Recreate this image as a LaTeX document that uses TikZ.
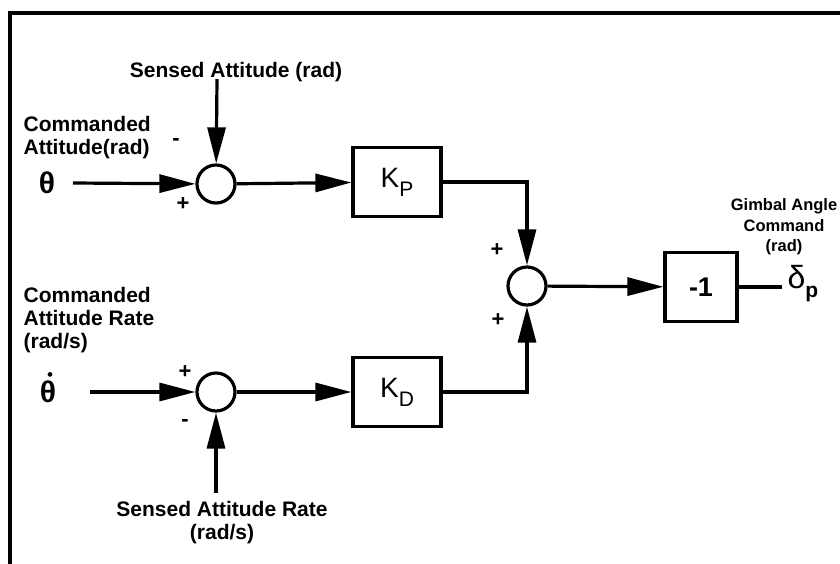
\documentclass[tikz,border=0pt]{standalone}
\usepackage{fontspec}
\setmainfont{Liberation Sans}
\usetikzlibrary{arrows.meta,positioning,calc}
\begin{document}
\begin{tikzpicture}[x=1pt,y=-1pt,
  line width=3.2pt,
  sig/.style={-{Triangle[length=36pt,width=18pt]}},
  sumj/.style={circle,draw,inner sep=0pt,minimum size=38pt},
  gain/.style={draw,inner sep=0pt,minimum width=88pt,minimum height=69pt},
  lab/.style={font=\bfseries\fontsize{21}{23}\selectfont,inner sep=0pt},
  sgn/.style={font=\bfseries\fontsize{22}{23}\selectfont,inner sep=0pt},
  small/.style={font=\bfseries\fontsize{16.5}{20.5}\selectfont,inner sep=0pt,align=center},
  greek/.style={font=\bfseries\fontsize{30}{30}\selectfont,inner sep=0pt}]
\useasboundingbox (0,0) rectangle (840,563);
% frame
\draw[line width=3.4pt] (10,570) -- (10,13) -- (850,13);

% upper loop: attitude
\node[lab] (salab) at (236,72) {Sensed Attitude (rad)};
\coordinate (satop) at (217,79);
\node[lab,anchor=west,align=left] (calab) at (22,138) {Commanded\\Attitude(rad)};
\node[greek] (th) at (47,183) {θ};
\coordinate (thstart) at (73,183);
\node[sumj] (s1) at (216,184) {};
\node[sgn] (s1m) at (176,142) {-};
\node[sgn] (s1p) at (183,204) {+};
\node[gain] (kp) at (397,182) {\fontsize{28}{28}\selectfont K\raisebox{-9pt}{\fontsize{21}{21}\selectfont P}};
\draw[sig] (thstart) -- (s1);
\draw[sig] (satop) -- (s1);
\draw[sig] (s1) -- (kp);

% lower loop: attitude rate
\node[lab,anchor=west,align=left] (crlab) at (22,320) {Commanded\\Attitude Rate\\(rad/s)};
\node[greek] (thd) at (48,392) {θ};
\fill ($(thd.north)+(2,-5)$) circle (2.4);
\coordinate (thdstart) at (90,392);
\node[sumj] (s3) at (216,392) {};
\node[sgn] (s3p) at (185,372) {+};
\node[sgn] (s3m) at (185,423) {-};
\coordinate (srbot) at (216,493);
\node[lab,align=center] (srlab) at (222,523) {Sensed Attitude Rate\\(rad/s)};
\node[gain] (kd) at (397,392) {\fontsize{28}{28}\selectfont K\raisebox{-9pt}{\fontsize{21}{21}\selectfont D}};
\draw[sig] (thdstart) -- (s3);
\draw[sig] (srbot) -- (s3);
\draw[sig] (s3) -- (kd);

% summing of both paths and output
\node[sumj] (s2) at (527,286) {};
\node[sgn] (s2pa) at (497,250) {+};
\node[sgn] (s2pb) at (498,320) {+};
\draw[sig] (kp.east) -| (s2);
\draw[sig] (kd.east) -| (s2);
\node[draw,inner sep=0pt,minimum width=72pt,minimum height=69pt] (neg) at (701,287)
  {\bfseries\fontsize{27}{27}\selectfont -1};
\draw[sig] (s2) -- (neg);
\coordinate (outend) at (782,287);
\draw (neg.east) -- (outend);
\node[inner sep=0pt,anchor=west] (dp) at (786,284)
  {\fontsize{32}{32}\selectfont δ\raisebox{-9pt}{\bfseries\fontsize{21}{21}\selectfont p}};
\node[small] (gac) at (784,227) {Gimbal Angle\\Command\\(rad)};
\end{tikzpicture}
\end{document}
